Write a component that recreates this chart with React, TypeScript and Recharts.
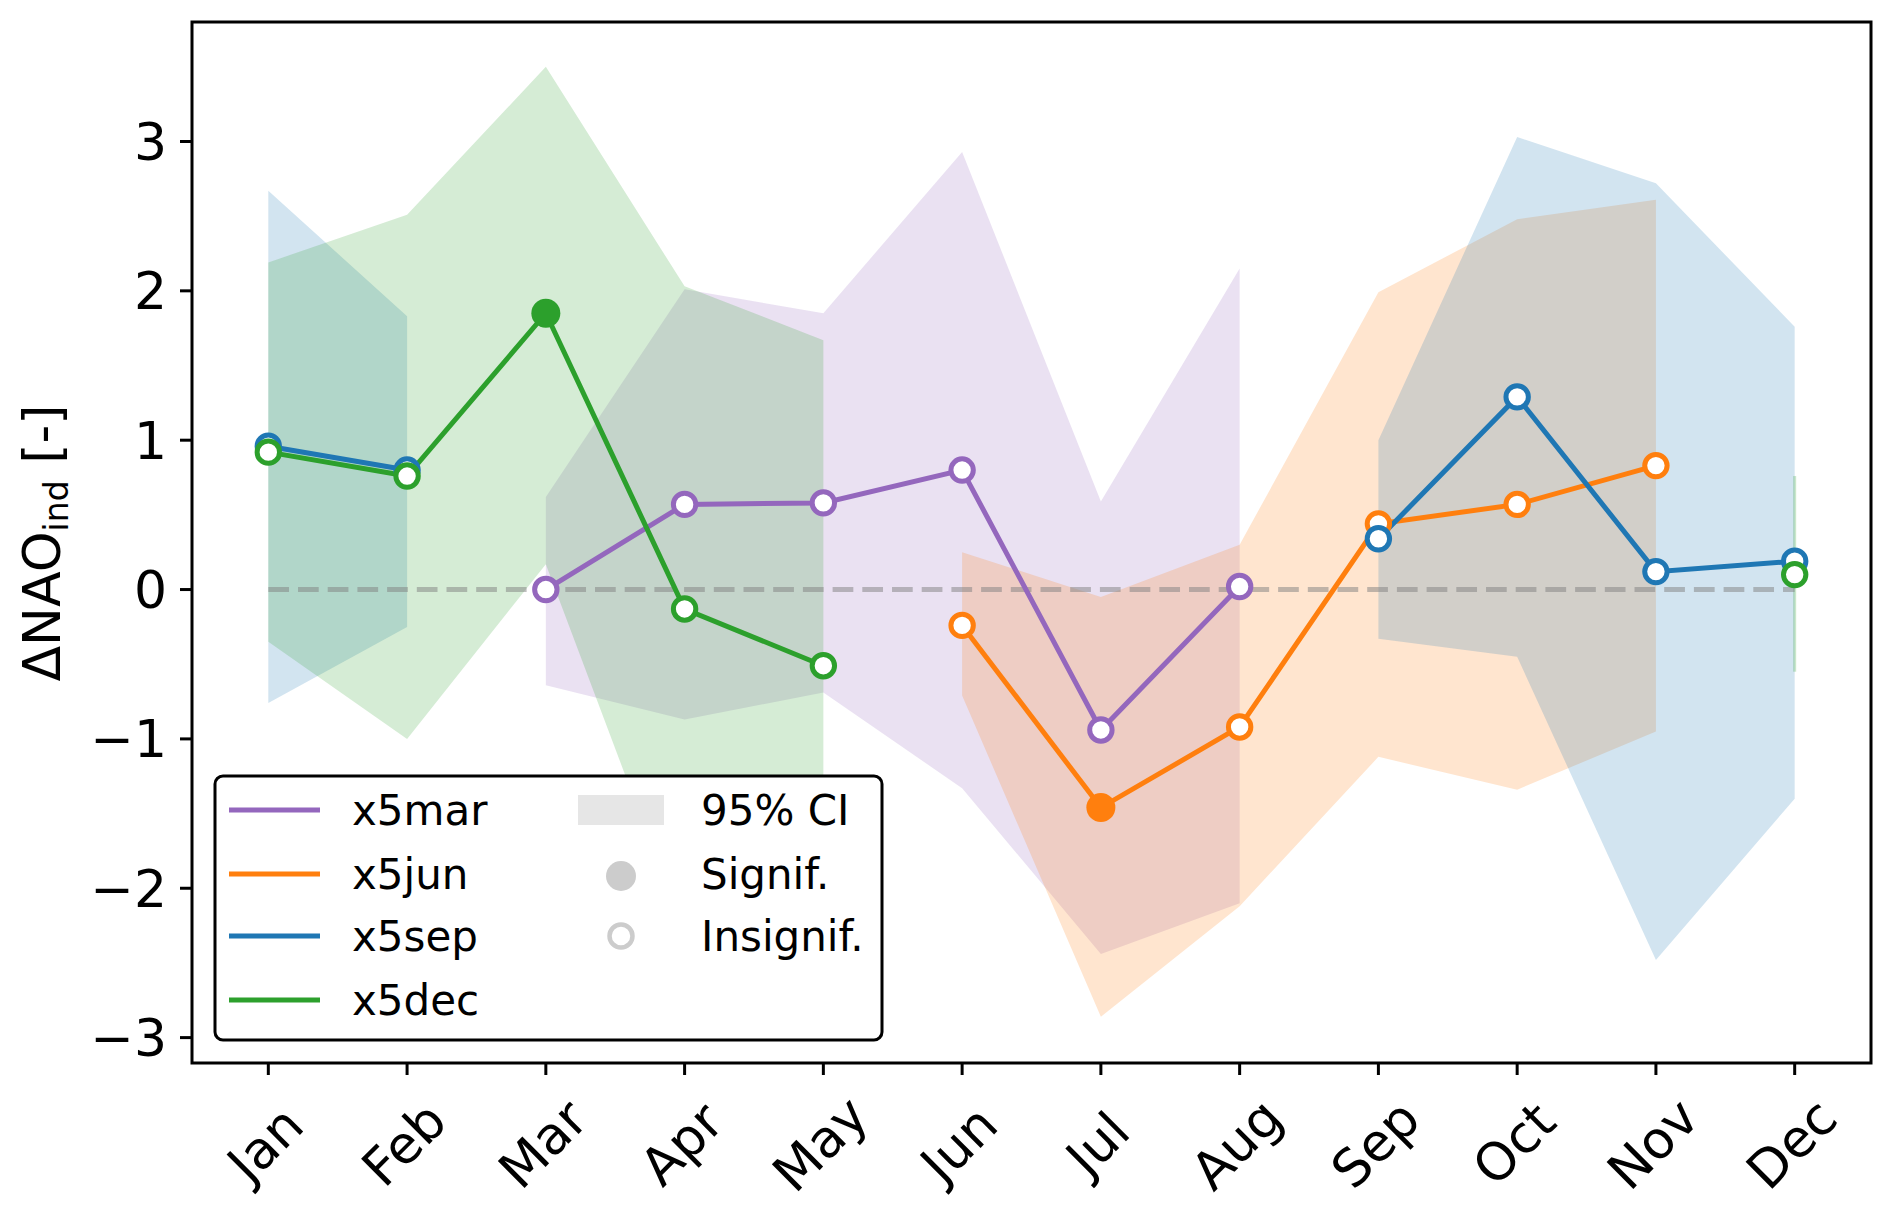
import React from 'react';
import {
  ComposedChart,
  Area,
  Line,
  XAxis,
  YAxis,
  ReferenceArea,
  ReferenceLine,
} from 'recharts';

const months = ['Jan', 'Feb', 'Mar', 'Apr', 'May', 'Jun', 'Jul', 'Aug', 'Sep', 'Oct', 'Nov', 'Dec'];
const monthIdx = [0, 1, 2, 3, 4, 5, 6, 7, 8, 9, 10, 11];
const yTicks = [-3, -2, -1, 0, 1, 2, 3];
const zeroLine = [0, 0, 0, 0, 0, 0, 0, 0, 0, 0, 0, 0];

// x5mar
const marVal = [null, null, 0.0, 0.57, 0.58, 0.8, -0.94, 0.02, null, null, null, null];
const marLo = [null, null, -0.64, -0.87, -0.69, -1.33, -2.44, -2.1, null, null, null, null];
const marHi = [null, null, 0.62, 2.01, 1.85, 2.93, 0.59, 2.15, null, null, null, null];
const marSig = [false, false, false, false, false, false, false, false, false, false, false, false];

// x5jun
const junVal = [null, null, null, null, null, -0.24, -1.46, -0.92, 0.44, 0.57, 0.83, null];
const junLo = [null, null, null, null, null, -0.71, -2.86, -2.12, -1.12, -1.34, -0.95, null];
const junHi = [null, null, null, null, null, 0.25, -0.05, 0.3, 1.99, 2.48, 2.61, null];
const junSig = [false, false, false, false, false, false, true, false, false, false, false, false];

// x5sep
const sepVal = [0.96, 0.8, null, null, null, null, null, null, 0.34, 1.29, 0.12, 0.19];
const sepLo = [-0.76, -0.25, null, null, null, null, null, null, -0.33, -0.45, -2.48, -1.4];
const sepHi = [2.67, 1.83, null, null, null, null, null, null, 1.0, 3.03, 2.72, 1.76];
const sepSig = [false, false, false, false, false, false, false, false, false, false, false, false];

// x5dec
const decVal = [0.92, 0.76, 1.85, -0.13, -0.51, null, null, null, null, null, null, 0.1];
const decLo = [-0.35, -1.0, 0.17, -2.3, -2.2, null, null, null, null, null, null, -0.55];
const decHi = [2.19, 2.51, 3.5, 2.03, 1.67, null, null, null, null, null, null, 0.76];
const decSig = [false, false, true, false, false, false, false, false, false, false, false, false];

type Series = {
  key: string;
  name: string;
  color: string;
  val: (number | null)[];
  lo: (number | null)[];
  hi: (number | null)[];
  sig: boolean[];
};

const series: Series[] = [
  { key: 'mar', name: 'x5mar', color: '#9467bd', val: marVal, lo: marLo, hi: marHi, sig: marSig },
  { key: 'jun', name: 'x5jun', color: '#ff7f0e', val: junVal, lo: junLo, hi: junHi, sig: junSig },
  { key: 'sep', name: 'x5sep', color: '#1f77b4', val: sepVal, lo: sepLo, hi: sepHi, sig: sepSig },
  { key: 'dec', name: 'x5dec', color: '#2ca02c', val: decVal, lo: decLo, hi: decHi, sig: decSig },
];

const data = monthIdx.map((i) => {
  const row: any = { x: i, zero: zeroLine[i] };
  series.forEach((s) => {
    row[s.key] = s.val[i];
    row[s.key + 'Band'] = s.lo[i] == null || s.hi[i] == null ? null : [s.lo[i], s.hi[i]];
  });
  return row;
});

// band points with no neighbour: fill_between leaves only a thin vertical line there
const isolated: { s: Series; i: number }[] = [];
series.forEach((s) => {
  s.lo.forEach((v, i) => {
    if (v == null) return;
    const prev = i > 0 ? s.lo[i - 1] : null;
    const next = i < s.lo.length - 1 ? s.lo[i + 1] : null;
    if (prev == null && next == null) isolated.push({ s, i });
  });
});

const FONT = 'DejaVu Sans, sans-serif';
const X_DOMAIN: [number, number] = [-0.55, 11.55];
const Y_DOMAIN: [number, number] = [-3.17, 3.8];

const makeDot = (s: Series) => (props: any) => {
  const { cx, cy, index, value } = props;
  const k = `${s.key}-dot-${index}`;
  if (value == null || cx == null || cy == null) return <g key={k} />;
  if (s.sig[index]) return <circle key={k} cx={cx} cy={cy} r={14.5} fill={s.color} />;
  return <circle key={k} cx={cx} cy={cy} r={11.2} fill="#fff" stroke={s.color} strokeWidth={5} />;
};

const MonthTick = (props: any) => {
  const { x, payload } = props;
  const cx = x - 3;
  const cy = 1144;
  return (
    <text
      x={cx}
      y={cy}
      textAnchor="middle"
      dominantBaseline="central"
      fontSize={52}
      fontFamily={FONT}
      fill="#000"
      transform={`rotate(-45 ${cx} ${cy})`}
    >
      {months[payload.value]}
    </text>
  );
};

const fmtY = (v: number) => (v < 0 ? `\u2212${Math.abs(v)}` : `${v}`);

const legendRows = [810, 874, 936, 1000];

export default function App() {
  return (
    <div style={{ position: 'absolute', left: 0, top: 0, width: 1892, height: 1214, background: '#fff' }}>
      <ComposedChart
        width={1892}
        height={1214}
        data={data}
        margin={{ top: 22, right: 21, bottom: 0, left: 0 }}
      >
        <XAxis
          type="number"
          dataKey="x"
          domain={X_DOMAIN}
          ticks={monthIdx}
          allowDataOverflow
          axisLine={false}
          tickSize={12}
          tickLine={{ stroke: '#000', strokeWidth: 3 }}
          tick={<MonthTick />}
          height={151}
          interval={0}
        />
        <YAxis
          type="number"
          domain={Y_DOMAIN}
          ticks={yTicks}
          allowDataOverflow
          axisLine={false}
          width={192}
          tickSize={12}
          tickMargin={13}
          tickLine={{ stroke: '#000', strokeWidth: 3 }}
          tick={{ fontSize: 52, fill: '#000', fontFamily: FONT }}
          tickFormatter={fmtY}
          interval={0}
        />

        {series.map((s) => (
          <Area
            key={s.key + 'Band'}
            type="linear"
            dataKey={s.key + 'Band'}
            stroke="none"
            fill={s.color}
            fillOpacity={0.2}
            connectNulls={false}
            dot={false}
            activeDot={false}
            isAnimationActive={false}
          />
        ))}

        {isolated.map(({ s, i }) => (
          <ReferenceLine
            key={s.key + 'iso' + i}
            segment={[
              { x: monthIdx[i], y: s.lo[i] as number },
              { x: monthIdx[i], y: s.hi[i] as number },
            ]}
            stroke={s.color}
            strokeOpacity={0.25}
            strokeWidth={3}
          />
        ))}

        <Line
          type="linear"
          dataKey="zero"
          stroke="#808080"
          strokeOpacity={0.5}
          strokeWidth={5}
          strokeDasharray="20.7 9"
          dot={false}
          activeDot={false}
          isAnimationActive={false}
        />

        {series.map((s) => (
          <Line
            key={s.key}
            type="linear"
            dataKey={s.key}
            stroke={s.color}
            strokeWidth={5}
            connectNulls={false}
            dot={makeDot(s)}
            activeDot={false}
            isAnimationActive={false}
          />
        ))}

        <ReferenceArea
          x1={X_DOMAIN[0]}
          x2={X_DOMAIN[1]}
          y1={Y_DOMAIN[0]}
          y2={Y_DOMAIN[1]}
          fill="none"
          stroke="#000"
          strokeWidth={3}
        />
      </ComposedChart>

      <svg
        width={1892}
        height={1214}
        style={{ position: 'absolute', left: 0, top: 0, pointerEvents: 'none' }}
      >
        {/* y axis label */}
        <text
          x={60}
          y={543}
          textAnchor="middle"
          fontSize={52}
          fontFamily={FONT}
          fill="#000"
          transform="rotate(-90 60 543)"
        >
          ΔNAO
          <tspan fontSize={33} dy={8}>ind</tspan>
          <tspan dy={-8}> [-]</tspan>
        </text>

        {/* legend */}
        <rect x={215} y={776} width={667} height={264} rx={8} ry={8} fill="#fff" stroke="#000" strokeWidth={3} />
        {series.map((s, i) => (
          <g key={s.key + 'leg'}>
            <line x1={229} x2={320} y1={legendRows[i]} y2={legendRows[i]} stroke={s.color} strokeWidth={5} />
            <text x={352} y={legendRows[i]} dominantBaseline="central" fontSize={42} fontFamily={FONT} fill="#000">
              {s.name}
            </text>
          </g>
        ))}
        <rect x={578} y={795} width={86} height={30} fill="#e6e6e6" />
        <text x={701} y={legendRows[0]} dominantBaseline="central" fontSize={42} fontFamily={FONT} fill="#000">
          95% CI
        </text>
        <circle cx={621} cy={legendRows[1] + 2} r={15} fill="#cccccc" />
        <text x={701} y={legendRows[1]} dominantBaseline="central" fontSize={42} fontFamily={FONT} fill="#000">
          Signif.
        </text>
        <circle cx={621} cy={legendRows[2]} r={11.5} fill="#fff" stroke="#cccccc" strokeWidth={4.5} />
        <text x={701} y={legendRows[2]} dominantBaseline="central" fontSize={42} fontFamily={FONT} fill="#000">
          Insignif.
        </text>
      </svg>
    </div>
  );
}
